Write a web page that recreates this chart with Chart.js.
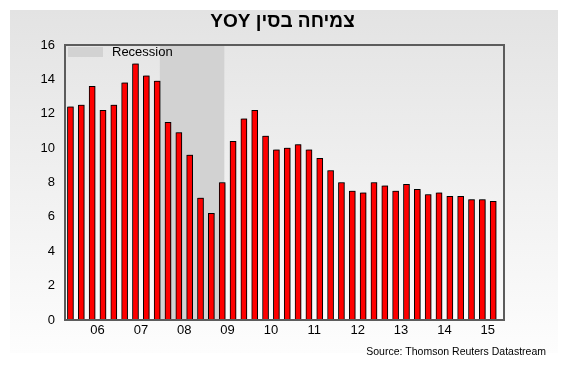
<!DOCTYPE html>
<html>
<head>
<meta charset="utf-8">
<script src="https://cdn.jsdelivr.net/npm/chart.js@4.4.1/dist/chart.umd.min.js"></script>
<style>
  body { margin: 0; background: #fff; }
  #wrap { width: 565px; height: 372px; }
</style>
</head>
<body>
<div id="wrap"><canvas id="chart"></canvas></div>
<script>
// quarterly China GDP growth, % YoY
const quarters = [
    '05Q4',
    '06Q1', '06Q2', '06Q3', '06Q4',
    '07Q1', '07Q2', '07Q3', '07Q4',
    '08Q1', '08Q2', '08Q3', '08Q4',
    '09Q1', '09Q2', '09Q3', '09Q4',
    '10Q1', '10Q2', '10Q3', '10Q4',
    '11Q1', '11Q2', '11Q3', '11Q4',
    '12Q1', '12Q2', '12Q3', '12Q4',
    '13Q1', '13Q2', '13Q3', '13Q4',
    '14Q1', '14Q2', '14Q3', '14Q4',
    '15Q1', '15Q2', '15Q3'
];
const growth = [
    12.4,
    12.5, 13.6, 12.2, 12.5,
    13.8, 14.9, 14.2, 13.9,
    11.5, 10.9, 9.6, 7.1,
    6.2, 8.0, 10.4, 11.7,
    12.2, 10.7, 9.9, 10.0,
    10.2, 9.9, 9.4, 8.7,
    8.0, 7.5, 7.4, 8.0,
    7.8, 7.5, 7.9, 7.6,
    7.3, 7.4, 7.2, 7.2,
    7.0, 7.0, 6.9
];
const years = ['06', '07', '08', '09', '10', '11', '12', '13', '14', '15'];
const yTicks = [0, 2, 4, 6, 8, 10, 12, 14, 16];

// recession band, in bar-index units on the x scale
const recessionFrom = 8.25;
const recessionTo = 14.2;

const titleText = 'צמיחה בסין YOY';
const legendText = 'Recession';
const sourceText = 'Source: Thomson Reuters Datastream';

const FONT = '"Liberation Sans", Arial, sans-serif';
const SHADE = '#d2d2d2';

// year label sits between Q2 and Q3
const yearPos = years.map(y => quarters.indexOf(y + 'Q2') + 0.5);

const decor = {
    id: 'decor',
    beforeDraw(chart) {
        const ctx = chart.ctx;
        ctx.save();
        ctx.fillStyle = '#fff';
        ctx.fillRect(0, 0, chart.width, chart.height);
        const g = ctx.createLinearGradient(0, 10, 0, 353);
        g.addColorStop(0, '#e3e3e3');
        g.addColorStop(1, '#fdfdfd');
        ctx.fillStyle = g;
        ctx.fillRect(10, 10, 548, 343);

        ctx.direction = 'rtl';
        ctx.font = 'bold 19px ' + FONT;
        ctx.textAlign = 'center';
        ctx.textBaseline = 'middle';
        ctx.fillStyle = '#000';
        ctx.fillText(titleText, chart.width / 2, 22);
        ctx.restore();
    },
    beforeDatasetsDraw(chart) {
        const ctx = chart.ctx;
        const a = chart.chartArea;
        const x = chart.scales.x;
        ctx.save();
        ctx.fillStyle = SHADE;
        const x1 = x.getPixelForValue(recessionFrom);
        const x2 = x.getPixelForValue(recessionTo);
        ctx.fillRect(x1, a.top, x2 - x1, a.bottom - a.top);
        // soft shadow behind bars
        ctx.shadowColor = 'rgba(0,0,0,0.35)';
        ctx.shadowOffsetX = 1;
        ctx.shadowOffsetY = -1;
        ctx.shadowBlur = 1;
    },
    afterDatasetsDraw(chart) {
        const ctx = chart.ctx;
        const a = chart.chartArea;
        ctx.restore();
        ctx.save();

        // plot frame
        ctx.strokeStyle = '#5c5c5c';
        ctx.lineWidth = 2;
        ctx.strokeRect(a.left, a.top, a.right - a.left, a.bottom - a.top);

        // legend
        ctx.fillStyle = SHADE;
        ctx.fillRect(a.left + 3, a.top + 2, 35, 10);
        ctx.fillStyle = '#000';
        ctx.font = '13px ' + FONT;
        ctx.textBaseline = 'middle';
        ctx.textAlign = 'left';
        ctx.fillText(legendText, a.left + 47, a.top + 7);

        // source
        ctx.font = '10.5px ' + FONT;
        ctx.textAlign = 'right';
        ctx.fillText(sourceText, 546, 352);
        ctx.restore();
    }
};

const ctx = document.getElementById('chart').getContext('2d');
new Chart(ctx, {
    type: 'bar',
    data: {
        datasets: [{
            data: growth.map((v, i) => ({ x: i, y: v })),
            backgroundColor: '#ff0000',
            borderColor: '#000',
            borderWidth: 1,
            barThickness: 6
        }]
    },
    options: {
        responsive: true,
        maintainAspectRatio: false,
        animation: false,
        layout: { padding: { left: 0, top: 45, right: 61, bottom: 0 } },
        plugins: {
            legend: { display: false },
            title: { display: false },
            tooltip: { enabled: false }
        },
        scales: {
            x: {
                type: 'linear',
                min: -0.5,
                max: 40,
                offset: false,
                grid: { display: false, drawTicks: false },
                border: { display: false },
                afterBuildTicks: axis => { axis.ticks = yearPos.map(v => ({ value: v })); },
                afterFit: axis => { axis.height = 52; },
                ticks: {
                    autoSkip: false,
                    maxRotation: 0,
                    padding: 3,
                    color: '#000',
                    font: { family: FONT, size: 13 },
                    callback: (v, i) => years[i]
                }
            },
            y: {
                min: 0,
                max: 16,
                grid: { display: false, drawTicks: false },
                border: { display: false },
                afterBuildTicks: axis => { axis.ticks = yTicks.map(v => ({ value: v })); },
                afterFit: axis => { axis.width = 65; },
                ticks: {
                    padding: 10,
                    color: '#000',
                    font: { family: FONT, size: 13 }
                }
            }
        }
    },
    plugins: [decor]
});
</script>
</body>
</html>
